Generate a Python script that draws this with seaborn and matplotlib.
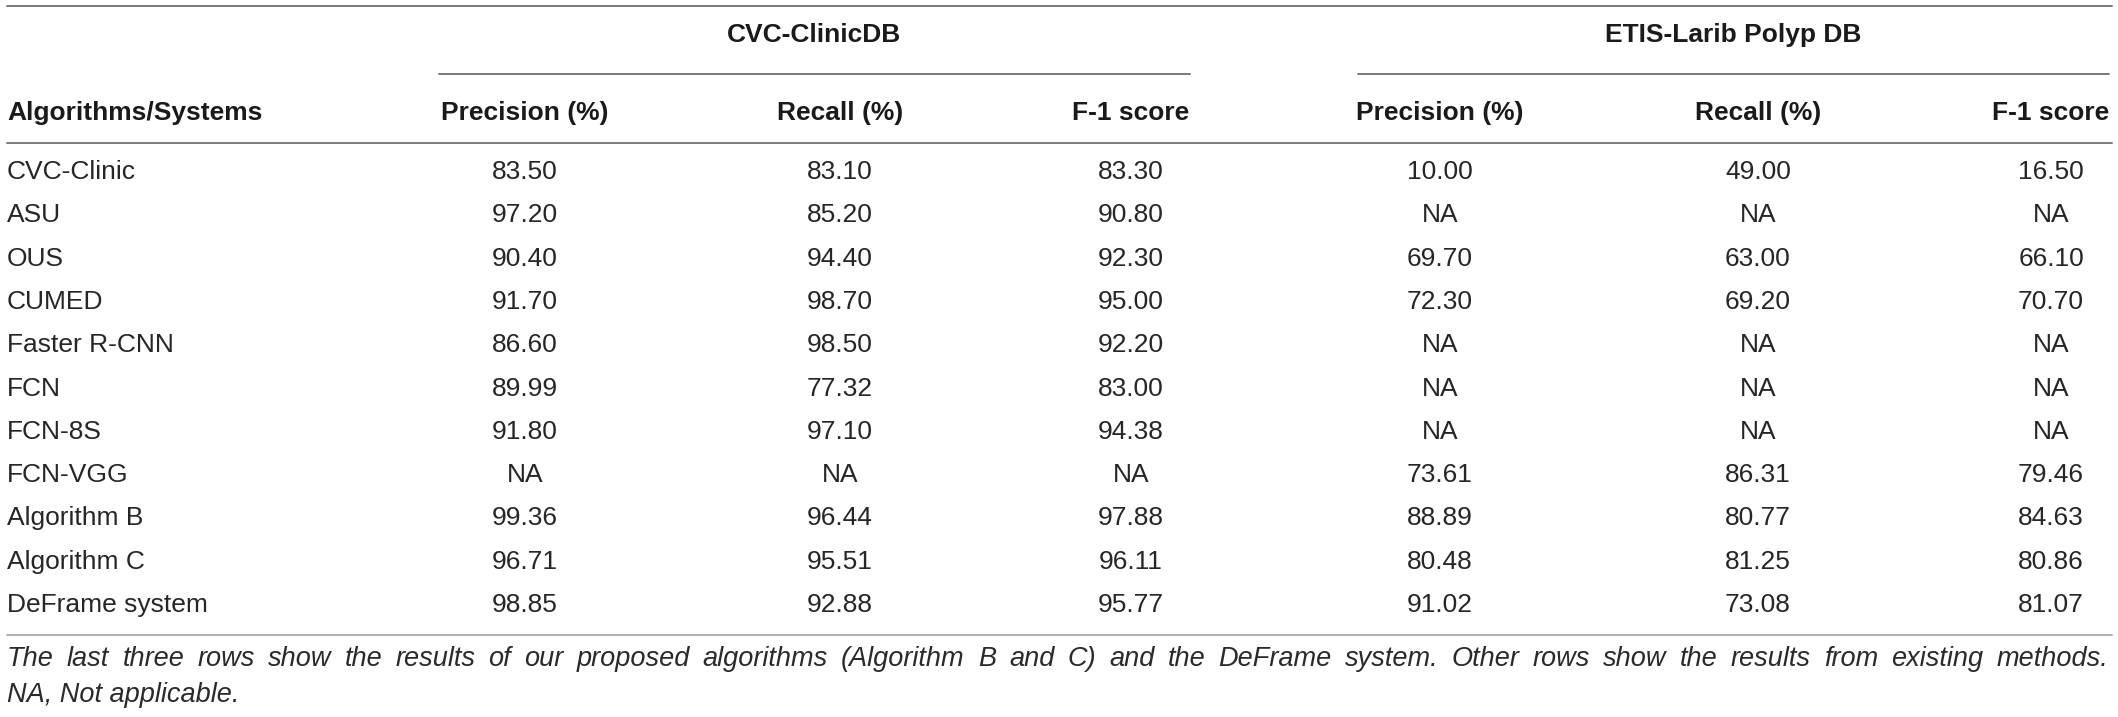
import numpy as np
import pandas as pd
import matplotlib
matplotlib.use('Agg')
import matplotlib.pyplot as plt
import seaborn as sns

# table values (nan = NA)
methods = ['CVC-Clinic', 'ASU', 'OUS', 'CUMED', 'Faster R-CNN', 'FCN', 'FCN-8S',
           'FCN-VGG', 'Algorithm B', 'Algorithm C', 'DeFrame system']
cvc_precision = [83.50, 97.20, 90.40, 91.70, 86.60, 89.99, 91.80, np.nan, 99.36, 96.71, 98.85]
cvc_recall = [83.10, 85.20, 94.40, 98.70, 98.50, 77.32, 97.10, np.nan, 96.44, 95.51, 92.88]
cvc_f1 = [83.30, 90.80, 92.30, 95.00, 92.20, 83.00, 94.38, np.nan, 97.88, 96.11, 95.77]
etis_precision = [10.00, np.nan, 69.70, 72.30, np.nan, np.nan, np.nan, 73.61, 88.89, 80.48, 91.02]
etis_recall = [49.00, np.nan, 63.00, 69.20, np.nan, np.nan, np.nan, 86.31, 80.77, 81.25, 73.08]
etis_f1 = [16.50, np.nan, 66.10, 70.70, np.nan, np.nan, np.nan, 79.46, 84.63, 80.86, 81.07]

groups = ['CVC-ClinicDB', 'ETIS-Larib Polyp DB']
sub_cols = ['Precision (%)', 'Recall (%)', 'F-1 score']
first_col = 'Algorithms/Systems'
caption = ['The last three rows show the results of our proposed algorithms (Algorithm B and C) '
           'and the DeFrame system. Other rows show the results from existing methods.',
           'NA, Not applicable.']

df = pd.DataFrame({
    ('CVC-ClinicDB', 'Precision (%)'): cvc_precision,
    ('CVC-ClinicDB', 'Recall (%)'): cvc_recall,
    ('CVC-ClinicDB', 'F-1 score'): cvc_f1,
    ('ETIS-Larib Polyp DB', 'Precision (%)'): etis_precision,
    ('ETIS-Larib Polyp DB', 'Recall (%)'): etis_recall,
    ('ETIS-Larib Polyp DB', 'F-1 score'): etis_f1,
}, index=methods)

sns.set_theme(style='white')
plt.rcParams['font.family'] = ['Liberation Sans', 'DejaVu Sans']

W, H = 2118, 717
fig = plt.figure(figsize=(W / 100, H / 100), dpi=100)
ax = fig.add_axes([0, 0, 1, 1])
ax.set_xlim(0, W)
ax.set_ylim(H, 0)
ax.axis('off')

fs = 19
txt = '#262626'
rule = '#7a7a7a'
left, right = 7, 2112

# layout (pixel units)
col_x = [525, 840, 1131, 1440, 1758, 2051]
group_span = [(439, 1190), (1358, 2109)]
row_y0, row_dy = 172, 43.3

# rules
ax.plot([left, right], [6, 6], color=rule, lw=1.4)
ax.plot([left, right], [143, 143], color=rule, lw=1.4)
ax.plot([left, right], [635, 635], color='#b0b0b0', lw=1.4)
for (a, b), g in zip(group_span, groups):
    ax.plot([a, b], [74, 74], color=rule, lw=1.4)
    ax.text((a + b) / 2, 35, g, ha='center', va='center', fontsize=fs,
            fontweight='bold', color='#1a1a1a')

# header
ax.text(left, 113, first_col, ha='left', va='center', fontsize=fs,
        fontweight='bold', color='#1a1a1a')
for x, (g, c) in zip(col_x, df.columns):
    ax.text(x, 113, c, ha='center', va='center', fontsize=fs,
            fontweight='bold', color='#1a1a1a')

# body
for i, name in enumerate(df.index):
    y = row_y0 + i * row_dy
    ax.text(left, y, name, ha='left', va='center', fontsize=fs, color=txt)
    for x, col in zip(col_x, df.columns):
        v = df.loc[name, col]
        s = 'NA' if pd.isna(v) else f'{v:.2f}'
        ax.text(x, y, s, ha='center', va='center', fontsize=fs, color=txt)

# caption: first line justified to full width, second line left
cap_fs = 19.5
cap_col = '#2a2a2a'
renderer = fig.canvas.get_renderer()
words = caption[0].split(' ')
widths = []
for w in words:
    t = ax.text(0, 0, w, fontsize=cap_fs, style='italic')
    widths.append(t.get_window_extent(renderer).width)
    t.remove()
gap = (2108 - left - sum(widths)) / (len(words) - 1)
x = left
for w, wd in zip(words, widths):
    ax.text(x, 659, w, ha='left', va='center', fontsize=cap_fs,
            style='italic', color=cap_col)
    x += wd + gap
ax.text(left, 695, caption[1], ha='left', va='center', fontsize=cap_fs,
        style='italic', color=cap_col)

fig.savefig('out.png', dpi=100)
